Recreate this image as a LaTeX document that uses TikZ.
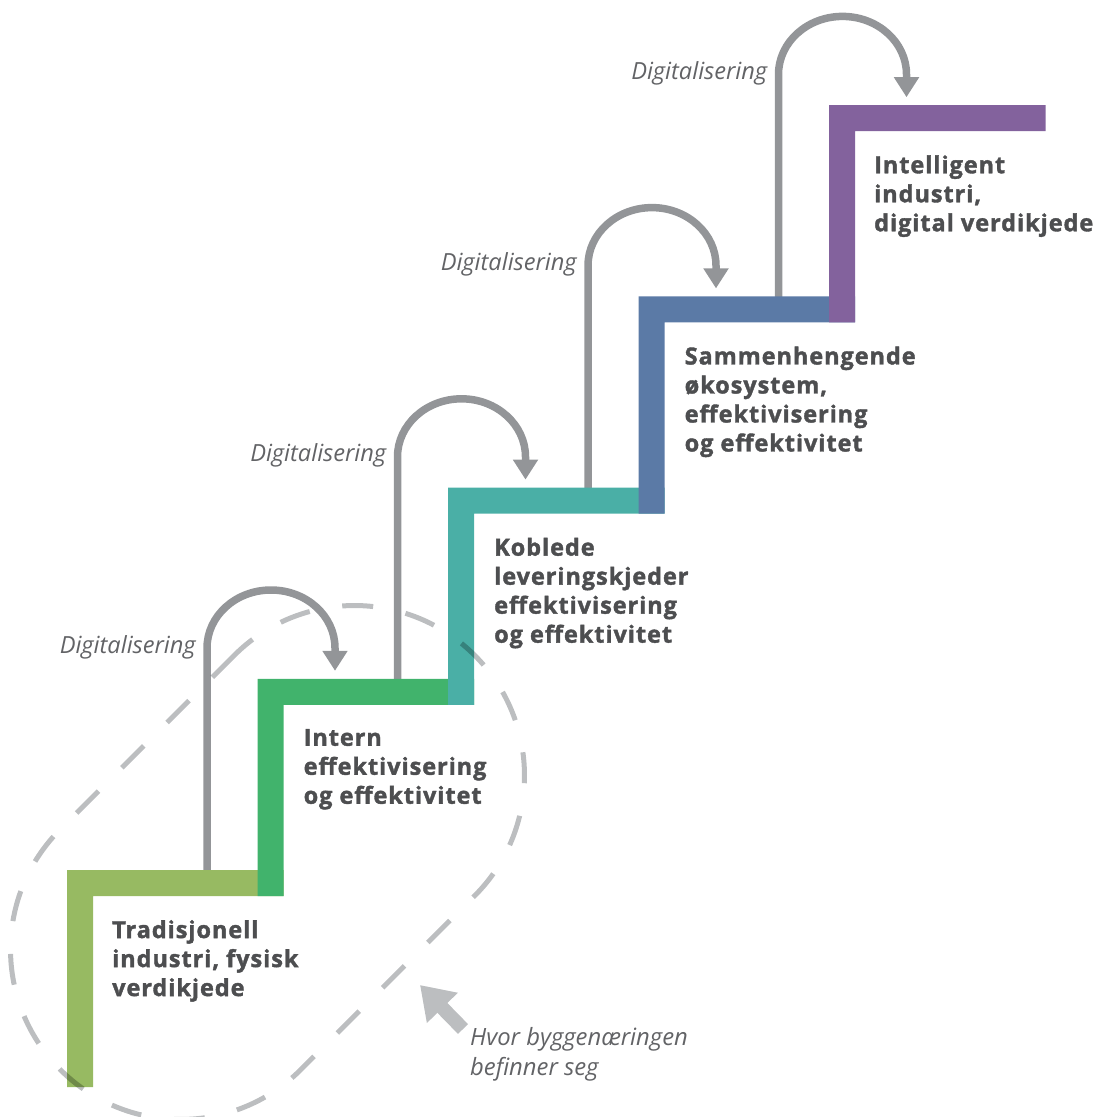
\documentclass[tikz,border=0pt]{standalone}
\usepackage{fontspec}
\setmainfont{Open Sans}
\newfontfamily\heavyfont{Open Sans}[BoldFeatures={FakeBold=1.6,LetterSpace=4}]
\usetikzlibrary{arrows.meta,calc}

\definecolor{stepA}{HTML}{97BA62}
\definecolor{stepB}{HTML}{41B36C}
\definecolor{stepC}{HTML}{4AAFA6}
\definecolor{stepD}{HTML}{5B7AA6}
\definecolor{stepE}{HTML}{83629D}
\definecolor{arrowgray}{HTML}{939598}
\definecolor{softgray}{HTML}{BCBEC0}
\definecolor{labelgray}{HTML}{4D4E50}
\definecolor{italgray}{HTML}{626366}

\tikzset{
  garrow/.style={draw=arrowgray, line width=7.5pt, -{Triangle[width=24pt,length=20pt]}},
  steplabel/.style={anchor=north west, inner sep=0pt, align=left, text=labelgray,
    font=\heavyfont\bfseries\fontsize{23.5}{29}\selectfont},
  diglabel/.style={anchor=base east, inner sep=0pt, text=italgray,
    font=\itshape\fontsize{23.6}{29}\selectfont},
  notelabel/.style={anchor=north west, inner sep=0pt, align=left, text=italgray,
    font=\itshape\fontsize{23.8}{30}\selectfont},
  bigarrow/.style={draw=softgray, line width=14pt, -{Triangle[width=41pt,length=32pt]}},
  dashring/.style={draw=softgray, line width=5pt, dash pattern=on 31pt off 33pt,
    blend mode=multiply, rounded corners=170pt, minimum width=586pt, minimum height=340pt,
    inner sep=0pt, rotate=45}
}

\begin{document}
\begin{tikzpicture}[x=1pt,y=-1pt]
\useasboundingbox (0,0) rectangle (1096,1117);

% corner points of the five steps (outer top-left corner of each L)
\foreach \i in {0,...,4} {
  \pgfmathsetmacro\sx{67+190.5*\i}
  \pgfmathsetmacro\st{870-191.2*\i}
  \coordinate (top\i) at (\sx,\st);
}

% grey "Digitalisering" arrows, from each step up and over onto the next
\foreach \i/\j in {0/1,1/2,2/3,3/4} {
  \draw[garrow] ($(top\i)+(140,2)$) -- ++(0,-224)
    arc[start angle=180, end angle=360, x radius=64, y radius=58]
    -- ($(top\j)+(77.5,-8)$);
  \node[diglabel] (dig\i) at ($(top\i)+(129,-217)$) {Digitalisering};
}

% the steps themselves
\foreach \i/\c in {0/stepA,1/stepB,2/stepC,3/stepD,4/stepE} {
  \pgfmathsetmacro\sx{67+190.5*\i}
  \pgfmathsetmacro\st{870-191.2*\i}
  \pgfmathsetmacro\sb{\i==0 ? 1087 : \st+191.2+26}
  \fill[\c] (\sx,\sb) -- (\sx,\st) -- ++(216.5,0) -- ++(0,26)
    -- (\sx+26,\st+26) -- (\sx+26,\sb) -- cycle;
}

% step texts
\node[steplabel] (s0) at ($(top0)+(45,50)$) {Tradisjonell\\industri, fysisk\\verdikjede};
\node[steplabel] (s1) at ($(top1)+(46,50)$) {Intern\\effektivisering\\og effektivitet};
\node[steplabel] (s2) at ($(top2)+(46,50)$) {Koblede\\leveringskjeder\\effektivisering\\og effektivitet};
\node[steplabel] (s3) at ($(top3)+(46,50)$) {Sammenhengende\\økosystem,\\effektivisering\\og effektivitet};
\node[steplabel] (s4) at ($(top4)+(45,50)$) {Intelligent\\industri,\\digital verdikjede};

% where the building industry stands
\node[dashring] (ring) at (267.5,862.5) {};
\node[notelabel] (note) at (470,1027) {Hvor byggenæringen\\befinner seg};
\coordinate (noteend) at (463,1029);
\coordinate (here) at (420,985);
\draw[bigarrow] (noteend) -- (here);
\end{tikzpicture}
\end{document}
